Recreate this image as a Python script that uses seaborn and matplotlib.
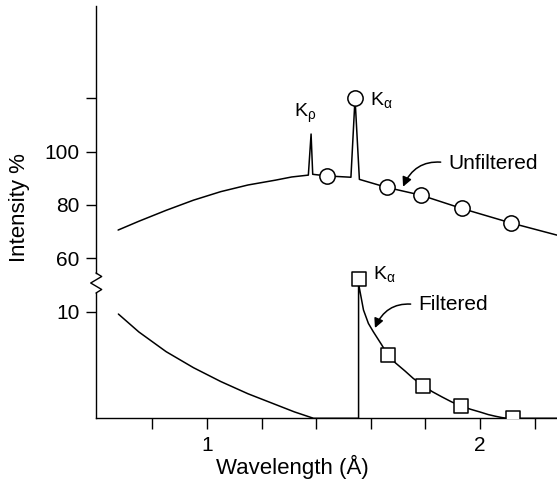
import matplotlib
matplotlib.use("Agg")
import matplotlib.pyplot as plt
from matplotlib.lines import Line2D
import pandas as pd
import seaborn as sns

# Unfiltered spectrum: continuum with the K-beta and K-alpha lines
unf_wl = [0.674, 0.750, 0.850, 0.950, 1.050, 1.150, 1.250, 1.310, 1.371, 1.381,
          1.387, 1.438, 1.527, 1.542, 1.558, 1.658, 1.783, 1.933, 2.112, 2.282]
unf_int = [70.6, 73.9, 78.0, 81.8, 85.0, 87.5, 89.3, 90.5, 91.2, 106.6,
           91.5, 90.9, 90.4, 120.0, 89.6, 86.6, 83.7, 78.7, 73.3, 68.7]
unf_mark_wl = [1.438, 1.542, 1.658, 1.783, 1.933, 2.112]
unf_mark_int = [90.9, 120.0, 86.6, 83.7, 78.7, 73.3]

# Filtered spectrum (lower scale)
filt_wl = [0.675, 0.750, 0.850, 0.950, 1.050, 1.150, 1.250, 1.320, 1.390,
           1.555, 1.555, 1.557, 1.573, 1.591, 1.609, 1.640, 1.662, 1.690,
           1.725, 1.755, 1.791, 1.825, 1.861, 1.895, 1.930, 1.965, 2.000,
           2.030, 2.055, 2.080, 2.098, 2.282]
filt_int = [9.78, 8.10, 6.25, 4.75, 3.45, 2.30, 1.30, 0.60, 0.0,
            0.0, 13.1, 12.35, 10.16, 8.90, 8.12, 6.88, 5.94, 5.20,
            4.44, 3.75, 3.06, 2.50, 2.00, 1.55, 1.16, 0.85, 0.59,
            0.35, 0.20, 0.07, 0.0, 0.0]
filt_mark_wl = [1.555, 1.662, 1.791, 1.930, 2.120]
filt_mark_int = [13.1, 5.94, 3.06, 1.16, 0.0]

x_ticks = [0.8, 1.0, 1.2, 1.4, 1.6, 1.8, 2.0, 2.2]
x_ticklabels = ["", "1", "", "", "", "", "2", ""]
upper_yticks = [60, 80, 100, 120]
upper_yticklabels = ["60", "80", "100", ""]
lower_yticks = [10]
lower_yticklabels = ["10"]

sns.set_theme(style="ticks")
plt.rcParams["font.family"] = ["Liberation Sans", "DejaVu Sans"]
plt.rcParams["text.color"] = "black"
plt.rcParams["axes.labelcolor"] = "black"
plt.rcParams["mathtext.fontset"] = "custom"
plt.rcParams["mathtext.rm"] = "Liberation Sans"
plt.rcParams["mathtext.it"] = "Liberation Sans"
plt.rcParams["mathtext.default"] = "regular"

W, H = 557, 484
fig = plt.figure(figsize=(W / 100, H / 100), dpi=100)

def fx(px):
    return px / W

def fy(py):
    return 1 - py / H

left = fx(96)
ax_top = fig.add_axes([left, fy(273), 1 - left, fy(6) - fy(273)])
ax_low = fig.add_axes([left, fy(418.3), 1 - left, fy(260) - fy(418.3)])

for ax in (ax_top, ax_low):
    ax.set_facecolor("none")
    ax.set_xlim(0.593, 2.282)
    for s in ("top", "right"):
        ax.spines[s].set_visible(False)
    for s in ("left", "bottom"):
        ax.spines[s].set_linewidth(1.0)
        ax.spines[s].set_color("black")
    ax.tick_params(axis="both", direction="out", width=1.0, color="black",
                   labelsize=15, labelcolor="black")
    ax.tick_params(axis="y", length=7, pad=5)
    ax.tick_params(axis="x", length=8, pad=5)

ax_top.set_ylim(54.5, 154.6)
ax_low.set_ylim(0, 14.85)
ax_low.spines["left"].set_bounds(0, 11.75)
ax_top.spines["bottom"].set_visible(False)
ax_top.set_xticks([])
ax_top.set_yticks(upper_yticks)
ax_top.set_yticklabels(upper_yticklabels)
ax_low.set_yticks(lower_yticks)
ax_low.set_yticklabels(lower_yticklabels)
ax_low.set_xticks(x_ticks)
ax_low.set_xticklabels(x_ticklabels)

unf = pd.DataFrame({"wl": unf_wl, "I": unf_int})
filt = pd.DataFrame({"wl": filt_wl, "I": filt_int})

sns.lineplot(data=unf, x="wl", y="I", ax=ax_top, estimator=None, sort=False,
             color="black", lw=1.1, zorder=2)
sns.scatterplot(x=unf_mark_wl, y=unf_mark_int, ax=ax_top, marker="o", s=11 ** 2,
                facecolor="white", edgecolor="black", linewidth=1.1, zorder=3)

sns.lineplot(data=filt, x="wl", y="I", ax=ax_low, estimator=None, sort=False,
             color="black", lw=1.1, zorder=2)
sns.scatterplot(x=filt_mark_wl, y=filt_mark_int, ax=ax_low, marker="s", s=9.5 ** 2,
                facecolor="white", edgecolor="black", linewidth=1.1, zorder=3)
for ax in (ax_top, ax_low):
    ax.set_xlabel("")
    ax.set_ylabel("")

# Line labels
ax_top.text(1.319, 112.9, r"K$_{\rho}$", fontsize=14, ha="left", va="baseline")
ax_top.text(1.597, 117.5, r"K$_{\alpha}$", fontsize=14, ha="left", va="baseline")
ax_low.text(1.607, 13.04, r"K$_{\alpha}$", fontsize=14, ha="left", va="baseline")

arrow = dict(arrowstyle="-|>", connectionstyle="arc3,rad=0.4", color="black",
             lw=1.1, mutation_scale=14, shrinkA=3, shrinkB=0, relpos=(0, 0.5))
ax_top.annotate("Unfiltered", xy=(1.718, 86.85), xytext=(1.883, 95.7),
                fontsize=15, ha="left", va="center", arrowprops=arrow)
ax_low.annotate("Filtered", xy=(1.615, 8.47), xytext=(1.773, 10.63),
                fontsize=15, ha="left", va="center", arrowprops=arrow)

# Axis break on the intensity scale
zz_x = [96, 101.7, 90.7, 101.7, 96]
zz_y = [273, 276.5, 283, 289.5, 293]
fig.add_artist(Line2D([fx(v) for v in zz_x], [fy(v) for v in zz_y],
                      transform=fig.transFigure, color="black", lw=1.0))

fig.text(fx(20), fy(208), "Intensity %", rotation=90, fontsize=16,
         ha="center", va="center")
fig.text(fx(292), fy(467), "Wavelength (Å)", fontsize=16,
         ha="center", va="center")

fig.savefig("out.png", dpi=100)
